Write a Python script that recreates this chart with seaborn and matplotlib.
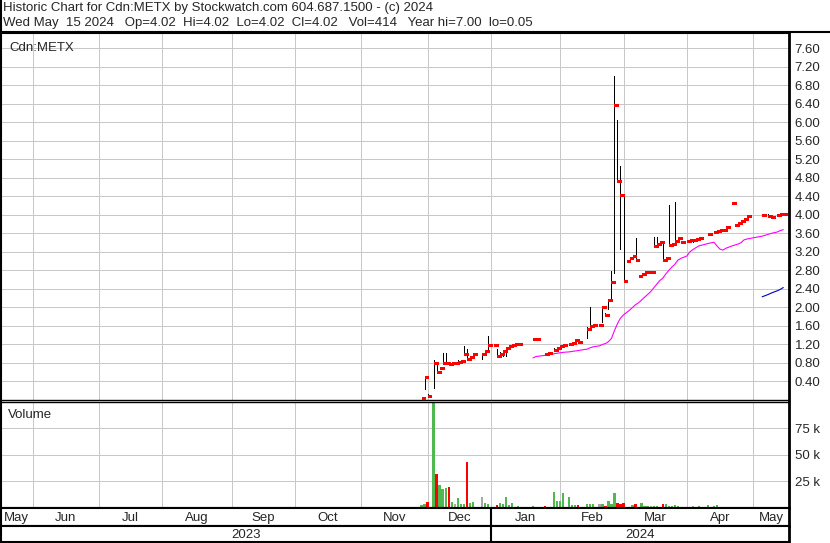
import numpy as np
import pandas as pd
import matplotlib
matplotlib.use("Agg")
import matplotlib.pyplot as plt
import seaborn as sns

# ======================
# Chart Data (Cdn:METX daily bars)
# ======================

dates = [
    "2023-11-29", "2023-11-30",
    "2023-12-01", "2023-12-05", "2023-12-06", "2023-12-07", "2023-12-08",
    "2023-12-11", "2023-12-12", "2023-12-13", "2023-12-14", "2023-12-15",
    "2023-12-18", "2023-12-19", "2023-12-20", "2023-12-21", "2023-12-22",
    "2023-12-27", "2023-12-28", "2023-12-29",
    "2024-01-02", "2024-01-03", "2024-01-04", "2024-01-05", "2024-01-08",
    "2024-01-09", "2024-01-10", "2024-01-11", "2024-01-12", "2024-01-19",
    "2024-01-22", "2024-01-25", "2024-01-26", "2024-01-30", "2024-01-31",
    "2024-02-01", "2024-02-02", "2024-02-06", "2024-02-07", "2024-02-08",
    "2024-02-09", "2024-02-14", "2024-02-15", "2024-02-16", "2024-02-20",
    "2024-02-21", "2024-02-22", "2024-02-23", "2024-02-26", "2024-02-27",
    "2024-02-28", "2024-02-29",
    "2024-03-01", "2024-03-04", "2024-03-05", "2024-03-06", "2024-03-07",
    "2024-03-08", "2024-03-11", "2024-03-12", "2024-03-13", "2024-03-14",
    "2024-03-15", "2024-03-18", "2024-03-19", "2024-03-20", "2024-03-21",
    "2024-03-22", "2024-03-25", "2024-03-26", "2024-03-27", "2024-03-28",
    "2024-04-01", "2024-04-02", "2024-04-03", "2024-04-04", "2024-04-05",
    "2024-04-10", "2024-04-12", "2024-04-15", "2024-04-16", "2024-04-17",
    "2024-04-18", "2024-04-22", "2024-04-23", "2024-04-24", "2024-04-25",
    "2024-04-26", "2024-04-29",
    "2024-05-06", "2024-05-08", "2024-05-09", "2024-05-13", "2024-05-14",
    "2024-05-15",
]

highs = [
    0.05, 0.52,
    0.12, 0.87, 0.77, 0.72, 1.01, 1.01, 0.81, 0.80, 0.80, 0.86,
    0.85, 1.17, 1.11, 0.93, 1.00, 1.01, 1.06, 1.39,
    1.19, 1.10, 1.04, 1.06, 1.12, 1.16, 1.20, 1.20, 1.21, 1.31,
    1.31, 0.99, 1.02, 1.13, 1.13,
    1.17, 1.19, 1.21, 1.24, 1.32, 1.26, 1.57, 2.02, 1.62, 1.62,
    2.02, 1.88, 2.17, 2.78, 7.00, 6.04, 5.06,
    4.42, 3.00, 3.06, 3.12, 3.51, 2.67, 2.72, 2.76, 2.77, 2.77,
    3.53, 3.53, 3.41, 3.40, 3.06, 4.22, 3.36, 4.28, 3.51, 3.41,
    3.44, 3.45, 3.45, 3.47, 3.51, 3.59, 3.62, 3.66, 3.67, 3.68,
    3.75, 4.25, 3.78, 3.82, 3.87, 3.91, 3.98,
    4.00, 4.01, 3.95, 4.00, 4.01, 4.02,
]

lows = [
    0.05, 0.24,
    0.08, 0.27, 0.61, 0.69, 0.80, 0.80, 0.78, 0.78, 0.80, 0.80,
    0.83, 0.99, 0.87, 0.92, 0.99, 0.89, 1.04, 1.06,
    1.19, 0.96, 0.97, 0.96, 0.96, 1.16, 1.18, 1.20, 1.21, 1.31,
    1.31, 0.99, 1.02, 1.08, 1.13,
    1.17, 1.19, 1.21, 1.24, 1.28, 1.26, 1.35, 1.60, 1.62, 1.62,
    1.69, 1.83, 1.97, 2.18, 2.75, 4.73, 3.27,
    2.57, 3.00, 3.06, 3.12, 3.02, 2.67, 2.72, 2.76, 2.77, 2.77,
    3.33, 3.37, 3.41, 3.02, 3.06, 3.35, 3.36, 3.43, 3.51, 3.41,
    3.44, 3.45, 3.42, 3.47, 3.51, 3.59, 3.62, 3.66, 3.67, 3.68,
    3.73, 4.25, 3.78, 3.82, 3.87, 3.91, 3.98,
    4.00, 3.98, 3.95, 4.00, 4.01, 4.02,
]

closes = [
    0.05, 0.50,
    0.09, 0.79, 0.61, 0.69, 0.80, 0.81, 0.78, 0.80, 0.80, 0.83,
    0.85, 1.00, 0.88, 0.93, 1.00, 1.00, 1.05, 1.19,
    1.19, 0.96, 1.00, 1.05, 1.12, 1.16, 1.19, 1.20, 1.21, 1.31,
    1.31, 0.99, 1.02, 1.08, 1.13,
    1.17, 1.19, 1.21, 1.24, 1.30, 1.26, 1.53, 1.60, 1.62, 1.62,
    2.00, 1.83, 2.16, 2.54, 6.37, 4.73, 4.42,
    2.57, 3.00, 3.06, 3.12, 3.02, 2.67, 2.72, 2.76, 2.77, 2.77,
    3.33, 3.38, 3.41, 3.02, 3.06, 3.35, 3.36, 3.43, 3.51, 3.41,
    3.44, 3.45, 3.45, 3.47, 3.51, 3.59, 3.62, 3.66, 3.67, 3.68,
    3.74, 4.25, 3.78, 3.82, 3.87, 3.91, 3.98,
    4.00, 3.98, 3.95, 4.00, 4.01, 4.02,
]

# thousands of shares
volumes = [
    2.8, 3.8,
    5.7, 135.0, 32.0, 21.7, 17.9, 19.0, 19.8, 5.7, 3.8, 9.4,
    3.8, 3.8, 43.0, 4.7, 5.7, 10.4, 4.7, 3.8,
    1.0, 2.8, 4.7, 3.8, 10.4, 2.8, 4.7, 1.0, 1.9, 1.9,
    1.0, 1.9, 1.0, 15.0, 6.6,
    6.6, 14.0, 10.4, 2.8, 2.8, 2.8, 3.8, 3.8, 3.8, 3.8,
    3.7, 1.7, 6.5, 3.7, 14.0, 4.6, 3.7,
    4.6, 1.0, 1.0, 2.8, 3.7, 1.0, 4.6, 1.9, 1.9, 1.9,
    1.9, 1.9, 1.0, 3.7, 3.7, 1.9, 1.9, 2.8, 1.9, 1.0,
    1.0, 1.0, 1.9, 1.0, 1.9, 2.8, 1.9, 2.8, 1.0, 1.0,
    1.0, 1.0, 1.0, 1.0, 1.0, 1.0, 1.0,
    1.0, 1.0, 1.0, 1.0, 1.0, 0.414,
]

# pink moving average, drawn from 2024-01-19 to the end
ma_short = [
    0.91, 0.94, 0.965, 0.98, 1.00, 1.01,
    1.02, 1.03, 1.04, 1.05, 1.06, 1.07, 1.10, 1.13, 1.15, 1.17,
    1.20, 1.22, 1.26, 1.33, 1.50, 1.65, 1.77,
    1.84, 1.89, 1.94, 2.00, 2.06, 2.10, 2.16, 2.22, 2.28, 2.34,
    2.42, 2.50, 2.58, 2.63, 2.72, 2.80, 2.87, 2.93, 3.02, 3.06,
    3.11, 3.20, 3.25, 3.29, 3.33, 3.38, 3.41, 3.33, 3.26, 3.24,
    3.28, 3.33, 3.35, 3.37, 3.40, 3.46, 3.48,
    3.54, 3.58, 3.60, 3.63, 3.66, 3.68,
]

# blue moving average, drawn for the last days of May 2024
ma_long = [2.23, 2.28, 2.31, 2.36, 2.39, 2.43]

month_names = ["May", "Jun", "Jul", "Aug", "Sep", "Oct", "Nov",
               "Dec", "Jan", "Feb", "Mar", "Apr", "May", "Jun"]
price_ticks = [0.40, 0.80, 1.20, 1.60, 2.00, 2.40, 2.80, 3.20, 3.60, 4.00,
               4.40, 4.80, 5.20, 5.60, 6.00, 6.40, 6.80, 7.20, 7.60]
vol_ticks = [25, 50, 75]
vol_tick_labels = ["25 k", "50 k", "75 k"]

header1 = "Historic Chart for Cdn:METX by Stockwatch.com 604.687.1500 - (c) 2024"
header2 = ("Wed May  15 2024   Op=4.02  Hi=4.02  Lo=4.02  Cl=4.02   "
           "Vol=414   Year hi=7.00  lo=0.05")

# ======================
# Style
# ======================

sns.set_style("white")
plt.rcParams["font.family"] = ["Liberation Sans", "DejaVu Sans"]
plt.rcParams["font.size"] = 9

GRID = "#c8c8c8"
GREEN = "#50b850"
RED = "#ff0000"
GREY = "#a8a8a8"

W, H = 830, 543
fig = plt.figure(figsize=(W / 100, H / 100), dpi=100)


def box(x0, y0, x1, y1):
    # axes placed by pixel edges, y measured from the top
    return fig.add_axes([x0 / W, 1 - y1 / H, (x1 - x0) / W, (y1 - y0) / H])


def frame(ax, top=1.5, bottom=1.5):
    for side, lw in [("left", 1.5), ("right", 2.0), ("top", top), ("bottom", bottom)]:
        ax.spines[side].set_visible(True)
        ax.spines[side].set_color("black")
        ax.spines[side].set_linewidth(lw)


def grid_lines(a, ys):
    for m in inside:
        a.axvline(m, color=GRID, lw=0.5, zorder=0, antialiased=False)
    for t in ys:
        a.axhline(t, color=GRID, lw=0.5, zorder=0, antialiased=False)


# trading-day positions
start = np.datetime64("2023-05-17")
x = np.busday_count(start, pd.to_datetime(dates).values.astype("datetime64[D]"))
month_starts = pd.date_range("2023-05-01", "2024-06-01", freq="BMS")
mx = np.busday_count(start, month_starts.values.astype("datetime64[D]"))
xlim = (0.5, 261.9)
inside = [m for m in mx if xlim[0] < m < xlim[1]]
jan_pos = np.busday_count(start, np.datetime64("2024-01-01"))

highs = np.array(highs)
lows = np.array(lows)
closes = np.array(closes)

# ======================
# Price panel
# ======================

ax = box(1, 33, 789, 400)
grid_lines(ax, price_ticks)

rng = highs > lows
ax.vlines(x[rng], lows[rng], highs[rng], color="black", lw=0.5, zorder=2,
          antialiased=False)
ax.hlines(closes, x, x + 1.3, color=RED, lw=2.1, zorder=3, antialiased=False)

sns.lineplot(x=x[-len(ma_short):], y=ma_short, color="#ff00ff", lw=0.8, ax=ax, zorder=2)
sns.lineplot(x=x[-len(ma_long):], y=ma_long, color="#0000c0", lw=0.8, ax=ax, zorder=2)

ax.set_xlim(xlim)
ax.set_ylim(0, 7.93)
ax.set_xticks([])
ax.set_yticks(price_ticks)
ax.set_yticklabels([f"{t:.2f}" for t in price_ticks])
ax.yaxis.tick_right()
ax.tick_params(axis="y", length=0, pad=4, labelsize=9.5)
ax.set_xlabel("")
ax.set_ylabel("")
frame(ax, top=1.5, bottom=1.0)
ax.text(0.011, 0.975, "Cdn:METX", transform=ax.transAxes, va="top", ha="left", fontsize=9.5)

# ======================
# Volume panel
# ======================

diff = np.round(np.diff(closes), 4)
colors = [GREEN] + [GREEN if d > 0 else RED if d < 0 else GREY for d in diff]

av = box(1, 402, 789, 508)
grid_lines(av, vol_ticks)
av.bar(x, volumes, width=0.75, color=colors, linewidth=0, zorder=2, antialiased=False)
av.set_xlim(xlim)
av.set_ylim(0, 99.4)
av.set_xticks([])
av.set_yticks(vol_ticks)
av.set_yticklabels(vol_tick_labels)
av.yaxis.tick_right()
av.tick_params(axis="y", length=0, pad=4, labelsize=9.5)
frame(av, top=1.0, bottom=1.5)
av.text(0.009, 0.93, "Volume", transform=av.transAxes, va="top", ha="left", fontsize=9.5)

# ======================
# Month and year rows
# ======================

am = box(1, 508, 789, 526)
edges = [max(m, xlim[0]) for m in mx] + [xlim[1]]
for i, name in enumerate(month_names[:-1]):
    lo, hi = edges[i], min(edges[i + 1], xlim[1])
    if lo < hi:
        am.text((lo + hi) / 2, 0.45, name, ha="center", va="center", fontsize=9.5)
am.axvline(jan_pos, color="black", lw=1.5)
am.set_xlim(xlim)
am.set_ylim(0, 1)
am.set_xticks([])
am.set_yticks([])
frame(am)

ay = box(1, 526, 789, 542)
ay.text((xlim[0] + jan_pos) / 2, 0.45, "2023", ha="center", va="center", fontsize=9.5)
ay.text((jan_pos + xlim[1]) / 2, 0.45, "2024", ha="center", va="center", fontsize=9.5)
ay.axvline(jan_pos, color="black", lw=1.5)
ay.set_xlim(xlim)
ay.set_ylim(0, 1)
ay.set_xticks([])
ay.set_yticks([])
frame(ay)

# ======================
# Header
# ======================

fig.add_artist(plt.Line2D([0, 1], [1 - 32 / H, 1 - 32 / H], color="black", lw=1.5))
fig.add_artist(plt.Line2D([0.6 / W, 0.6 / W], [1 - 33 / H, 1], color="black", lw=1.5))
fig.text(3 / W, 1 - 8.5 / H, header1, va="center", ha="left", fontsize=9.55)
fig.text(3 / W, 1 - 23 / H, header2, va="center", ha="left", fontsize=9.55)

fig.savefig("out.png", dpi=100)
